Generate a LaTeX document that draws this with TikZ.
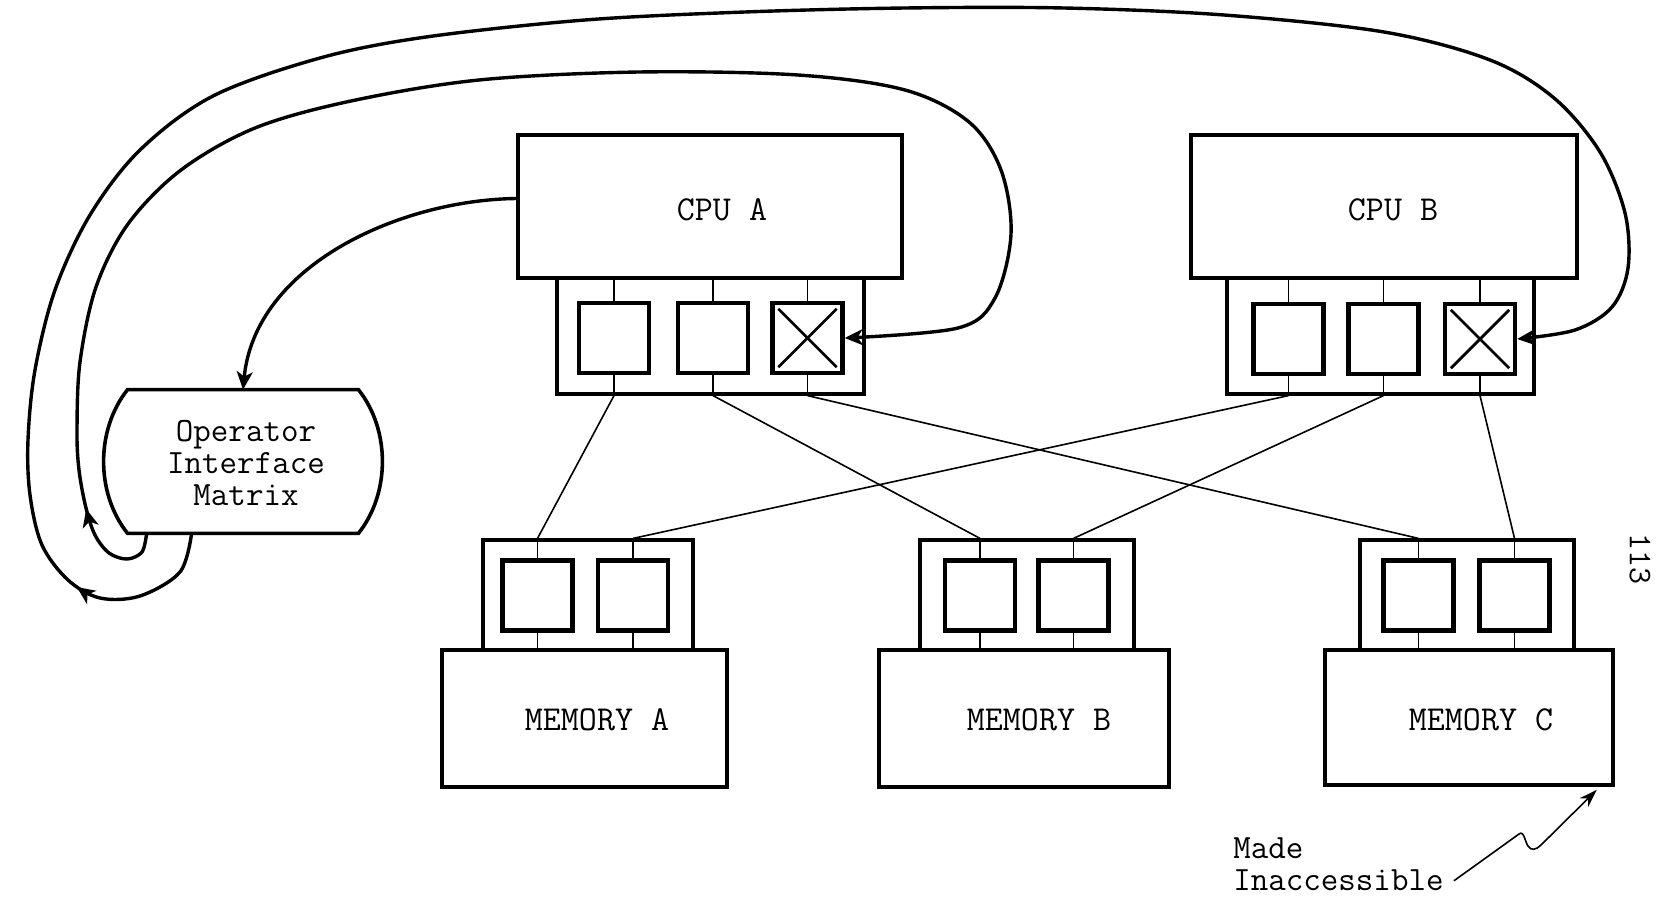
\documentclass[tikz,border=0pt]{standalone}
\usepackage{fontspec}
\usetikzlibrary{arrows.meta,calc,decorations.markings}

\begin{document}
\begin{tikzpicture}[x=0.5pt,y=-0.5pt,
  box/.style={draw,line width=1.8pt,inner sep=0pt},
  portframe/.style={draw,line width=1.6pt,inner sep=0pt},
  port/.style={draw,line width=2.2pt,minimum width=35pt,minimum height=35pt,inner sep=0pt},
  stub/.style={line width=0.6pt},
  link/.style={line width=0.8pt},
  wire/.style={line width=1.7pt},
  thinwire/.style={line width=0.8pt},
  lbl/.style={font=\ttfamily\fontsize{17.5}{18}\selectfont,inner sep=0pt},
  endarrow/.style={-{Stealth[length=9pt,width=8pt,inset=2.5pt]}},
  midarrow/.style={postaction={decorate},decoration={markings,
      mark=at position #1 with {\arrow{Stealth[length=9pt,width=8pt,inset=2.5pt]}}}},
]
\useasboundingbox (0,0) rectangle (1669,899);

% ---- CPU A and CPU B with their three-port adapters ----
\node[portframe,minimum width=153.5pt,minimum height=58pt] (fA) at (710.5,336) {};
\node[portframe,minimum width=153.5pt,minimum height=58pt] (fB) at (1380.5,336) {};
\node[box,minimum width=192pt,minimum height=71.5pt] (cpuA) at (710,206.5) {};
\node[box,minimum width=193pt,minimum height=71.5pt] (cpuB) at (1384,206.5) {};
\node[lbl] (cpuAt) at (722,210) {CPU A};
\node[lbl] (cpuBt) at (1393,210) {CPU B};

\foreach \n/\x in {A1/614,A2/713,A3/807.5}
  \node[port] (\n) at (\x,338) {};
\foreach \n/\x in {B1/1288.5,B2/1383.5,B3/1480}
  \node[port] (\n) at (\x,339) {};

% ---- memories with their two-port adapters ----
\node[portframe,minimum width=105pt,minimum height=55pt] (mfA) at (588,595) {};
\node[portframe,minimum width=107pt,minimum height=55pt] (mfB) at (1027,595) {};
\node[portframe,minimum width=107pt,minimum height=55pt] (mfC) at (1467,595) {};
\node[box,minimum width=142.5pt,minimum height=68.5pt] (memA) at (584.5,718.5) {};
\node[box,minimum width=145pt,minimum height=68.5pt] (memB) at (1024,718.5) {};
\node[box,minimum width=144pt,minimum height=67.5pt] (memC) at (1469,717.5) {};
\node[lbl] (memAt) at (597,720) {MEMORY A};
\node[lbl] (memBt) at (1039,720) {MEMORY B};
\node[lbl] (memCt) at (1481,720) {MEMORY C};

\foreach \n/\x in {mA1/537.5,mA2/633,mB1/980,mB2/1073.5,mC1/1418.5,mC2/1514.5}
  \node[port] (\n) at (\x,595.5) {};

% ---- port stubs ----
\foreach \p/\f in {A1/fA,A2/fA,A3/fA,B1/fB,B2/fB,B3/fB,mA1/mfA,mA2/mfA,mB1/mfB,mB2/mfB,mC1/mfC,mC2/mfC}{
  \draw[stub] (\p.north) -- (\p.north |- \f.north);
  \draw[stub] (\p.south) -- (\p.south |- \f.south);
}

% ---- disabled ports ----
\foreach \p in {A3,B3}{
  \draw[line width=1.4pt] ($(\p.north west)+(8,8)$) -- ($(\p.south east)+(-8,-8)$);
  \draw[line width=1.4pt] ($(\p.north east)+(-8,8)$) -- ($(\p.south west)+(8,-8)$);
}

% ---- CPU to memory cross links ----
\draw[link] (A1.south |- fA.south) -- (mA1.north |- mfA.north);
\draw[link] (A2.south |- fA.south) -- (mB1.north |- mfB.north);
\draw[link] (A3.south |- fA.south) -- (mC1.north |- mfC.north);
\draw[link] (B1.south |- fB.south) -- (mA2.north |- mfA.north);
\draw[link] (B2.south |- fB.south) -- (mB2.north |- mfB.north);
\draw[link] (B3.south |- fB.south) -- (mC2.north |- mfC.north);

% ---- operator interface matrix ----
\node[inner sep=0pt,minimum width=115pt,minimum height=71.5pt] (op) at (243,461.5) {};
\draw[box] (op.north west) -- (op.north east)
  .. controls +(32,40) and +(32,-40) .. (op.south east)
  -- (op.south west)
  .. controls +(-32,-40) and +(-32,40) .. (op.north west) -- cycle;
\node[lbl,align=center,font=\ttfamily\fontsize{17}{16}\selectfont] (opt) at (246,463)
  {Operator\\Interface\\Matrix};

% ---- control lines ----
\draw[wire,endarrow] ($(cpuA.west)+(0,-8)$) .. controls (400,200) and (255,265) .. (op.north);

\coordinate (m0) at ($(op.south west)+(19,0)$);
\draw[wire,endarrow,midarrow=53pt] plot[smooth,tension=0.55] coordinates {
  (m0) (142,552) (127,559) (109,553) (95,535) (86,508) (79,470) (77,430)
  (80,362) (96,287) (128,224) (181,170) (255,128) (351,101) (479,80)
  (639,72) (798,75) (905,90) (969,122) (1001,170) (1011,234) (995,298)
  (958,328) (A3.east)};

\coordinate (o0) at ($(op.south west)+(64,0)$);
\draw[wire,endarrow,midarrow=77pt] plot[smooth,tension=0.55] coordinates {
  (o0) (180,572) (140,596) (100,598) (68,580) (42,545) (30,495) (28,440)
  (35,370) (55,290) (90,215) (140,150) (213,96) (320,58) (426,37)
  (585,20) (745,12) (905,8) (1064,8) (1224,15) (1384,32) (1490,60)
  (1554,98) (1600,152) (1625,213) (1628,268) (1612,307) (1575,330)
  (B3.east)};

% ---- annotation ----
\node[lbl,align=left,anchor=north west,font=\ttfamily\fontsize{17}{16}\selectfont]
  (made) at (1233,837) {Made\\Inaccessible};
\draw[thinwire,-{Stealth[length=9pt,width=6pt]}]
  ($(made.south east)+(10,-10)$) -- (1519,834)
  .. controls (1524,830) and (1525,842) .. (1528,846)
  .. controls (1531,851) and (1536,850) .. (1541,845)
  -- ($(memC.south east)+(-18,3)$);

\node[lbl,rotate=-90,font=\ttfamily\fontsize{16.5}{17}\selectfont] (pg) at (1640,559) {113};
\end{tikzpicture}
\end{document}
